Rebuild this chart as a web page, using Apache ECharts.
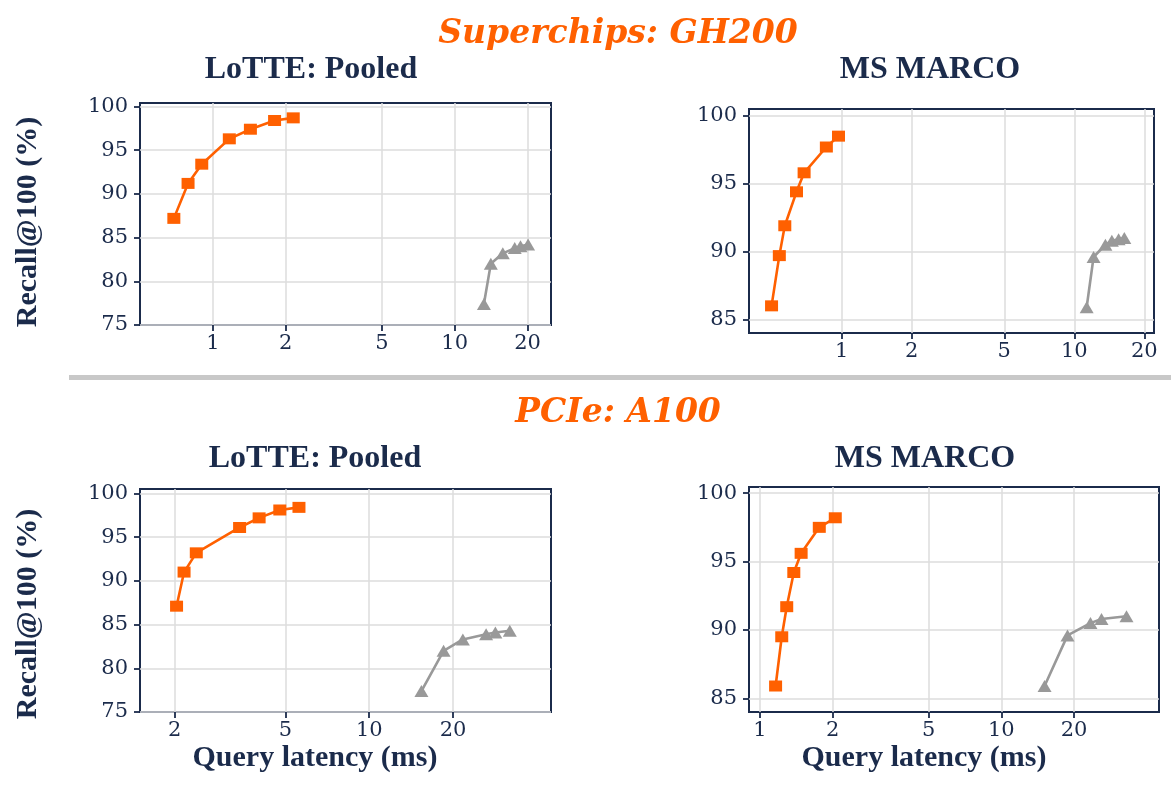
<!DOCTYPE html>
<html>
<head>
<meta charset="utf-8">
<script src="https://cdn.jsdelivr.net/npm/echarts@6/dist/echarts.min.js"></script>
<style>
  html, body { margin: 0; padding: 0; background: #fff; }
  #main { width: 1171px; height: 789px; }
</style>
</head>
<body>
<div id="main"></div>
<script>
// values (latency in ms, recall in %)
// top row: Superchips GH200
const gh200LotteFastX = [0.69, 0.79, 0.90, 1.17, 1.43, 1.80, 2.15]
const gh200LotteFastY = [87.2, 91.2, 93.4, 96.3, 97.4, 98.4, 98.7]
const gh200LotteBaseX = [13.2, 14.1, 15.8, 17.7, 18.7, 20.1]
const gh200LotteBaseY = [77.4, 82.0, 83.2, 83.8, 84.0, 84.2]

const gh200MarcoFastX = [0.50, 0.54, 0.57, 0.64, 0.69, 0.86, 0.97]
const gh200MarcoFastY = [86.0, 89.7, 91.9, 94.4, 95.8, 97.7, 98.5]
const gh200MarcoBaseX = [11.3, 12.1, 13.6, 14.5, 15.5, 16.4]
const gh200MarcoBaseY = [85.9, 89.6, 90.5, 90.8, 90.9, 91.0]

// bottom row: PCIe A100
const a100LotteFastX = [2.03, 2.16, 2.39, 3.42, 4.02, 4.77, 5.59]
const a100LotteFastY = [87.1, 91.0, 93.2, 96.1, 97.2, 98.1, 98.4]
const a100LotteBaseX = [15.4, 18.5, 21.7, 26.3, 28.4, 32.0]
const a100LotteBaseY = [77.4, 82.0, 83.3, 83.9, 84.1, 84.3]

const a100MarcoFastX = [1.16, 1.23, 1.29, 1.38, 1.48, 1.76, 2.05]
const a100MarcoFastY = [85.9, 89.5, 91.7, 94.2, 95.6, 97.5, 98.2]
const a100MarcoBaseX = [15.1, 18.8, 23.4, 26.0, 33.0]
const a100MarcoBaseY = [85.9, 89.6, 90.5, 90.8, 91.0]

// tick labels
const xTicksWide = [1, 2, 5, 10, 20]
const xTicksA100Lotte = [2, 5, 10, 20]
const yTicksLotte = [75, 80, 85, 90, 95, 100]
const yTicksMarco = [85, 90, 95, 100]

const NAVY = '#1b2b4b'
const ORANGE = '#ff6000'
const GRAY = '#999999'

function zip (xs, ys) {
  return xs.map((x, i) => [x, ys[i]])
}

// panel boxes and axis extents
const panels = [
  { box: { left: 140, top: 103, width: 411, height: 222 }, x: [0.5, 25], y: [75, 100.4], xt: xTicksWide, yt: yTicksLotte,
    fast: zip(gh200LotteFastX, gh200LotteFastY), base: zip(gh200LotteBaseX, gh200LotteBaseY) },
  { box: { left: 749, top: 109, width: 405, height: 224 }, x: [0.4, 22], y: [84, 100.5], xt: xTicksWide, yt: yTicksMarco,
    fast: zip(gh200MarcoFastX, gh200MarcoFastY), base: zip(gh200MarcoBaseX, gh200MarcoBaseY) },
  { box: { left: 140, top: 489, width: 411, height: 223 }, x: [1.5, 45], y: [75, 100.5], xt: xTicksA100Lotte, yt: yTicksLotte,
    fast: zip(a100LotteFastX, a100LotteFastY), base: zip(a100LotteBaseX, a100LotteBaseY) },
  { box: { left: 749, top: 487, width: 410, height: 225 }, x: [0.9, 45], y: [84, 100.45], xt: xTicksWide, yt: yTicksMarco,
    fast: zip(a100MarcoFastX, a100MarcoFastY), base: zip(a100MarcoBaseX, a100MarcoBaseY) }
]

const tickLabel = { color: NAVY, fontFamily: 'DejaVu Serif', fontSize: 21 }
const grids = []
const xAxes = []
const yAxes = []
const series = []

panels.forEach((p, i) => {
  grids.push(Object.assign({ show: true, borderColor: NAVY, borderWidth: 2, backgroundColor: '#fff' }, p.box))
  xAxes.push({
    type: 'log',
    logBase: 10,
    gridIndex: i,
    min: p.x[0],
    max: p.x[1],
    axisLine: { show: false },
    axisTick: { show: true, length: 6, customValues: p.xt, lineStyle: { color: NAVY, width: 1.8 } },
    axisLabel: Object.assign({ customValues: p.xt, margin: 8, formatter: v => String(+(+v).toPrecision(3)) }, tickLabel),
    splitLine: { show: true, lineStyle: { color: '#dcdcdc', width: 1.5 } },
    minorTick: { show: false },
    minorSplitLine: { show: false }
  })
  yAxes.push({
    type: 'value',
    gridIndex: i,
    min: p.y[0],
    max: p.y[1],
    axisLine: { show: false },
    axisTick: { show: true, length: 6, customValues: p.yt, lineStyle: { color: NAVY, width: 1.8 } },
    axisLabel: Object.assign({ customValues: p.yt, margin: 12 }, tickLabel),
    splitLine: { show: true, lineStyle: { color: '#dcdcdc', width: 1.5 } }
  })
  series.push({
    name: 'fast',
    type: 'line',
    xAxisIndex: i,
    yAxisIndex: i,
    data: p.fast,
    symbol: 'rect',
    symbolSize: [13, 11],
    color: ORANGE,
    lineStyle: { color: ORANGE, width: 2.6 },
    itemStyle: { color: ORANGE },
    z: 3
  })
  series.push({
    name: 'base',
    type: 'line',
    xAxisIndex: i,
    yAxisIndex: i,
    data: p.base,
    symbol: 'triangle',
    symbolSize: [14, 12],
    color: GRAY,
    lineStyle: { color: GRAY, width: 2.6 },
    itemStyle: { color: GRAY },
    z: 2
  })
})

function label (text, x, y, font, color, rot) {
  return {
    type: 'text',
    x: x,
    y: y,
    rotation: rot || 0,
    style: { text: text, font: font, fill: color, align: 'center', verticalAlign: 'middle' },
    z: 10
  }
}

const bigFont = 'italic bold 33px "DejaVu Serif"'
const subFont = 'bold 32px "Liberation Serif"'
const axisFont = 'bold 30px "Liberation Serif"'

const chart = echarts.init(document.getElementById('main'), null, { renderer: 'canvas' })
chart.setOption({
  animation: false,
  backgroundColor: '#fff',
  grid: grids,
  xAxis: xAxes,
  yAxis: yAxes,
  series: series,
  graphic: [
    { type: 'rect', shape: { x: 69, y: 375, width: 1102, height: 5 }, style: { fill: '#c8c8c8' } },
    label('Superchips: GH200', 618, 34, bigFont, ORANGE),
    label('PCIe: A100', 618, 413, bigFont, ORANGE),
    label('LoTTE: Pooled', 311, 70, subFont, NAVY),
    label('MS MARCO', 930, 70, subFont, NAVY),
    label('LoTTE: Pooled', 315, 459, subFont, NAVY),
    label('MS MARCO', 925, 459, subFont, NAVY),
    label('Recall@100 (%)', 28, 222, axisFont, NAVY, Math.PI / 2),
    label('Recall@100 (%)', 28, 614, axisFont, NAVY, Math.PI / 2),
    label('Query latency (ms)', 315, 758, axisFont, NAVY),
    label('Query latency (ms)', 924, 758, axisFont, NAVY)
  ]
})
</script>
</body>
</html>
